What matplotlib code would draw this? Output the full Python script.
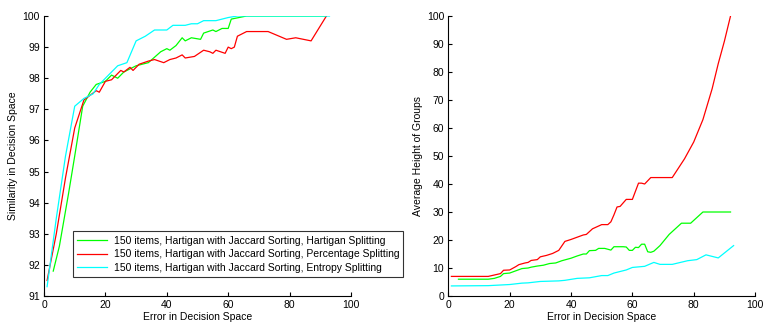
import matplotlib
matplotlib.use("Agg")
import matplotlib.pyplot as plt

# left panel: similarity vs error
sim_hart_x = [3, 5, 8, 10, 12.6, 15, 17, 20, 22, 24, 26, 30, 34, 38, 40, 41, 43, 45, 46, 48, 51, 52,
              55, 56, 58, 60, 61, 66, 92]
sim_hart_y = [91.8, 92.6, 94.3, 95.5, 97.1, 97.55, 97.8, 97.9, 98.1, 98.0, 98.2, 98.4, 98.5, 98.85,
              98.95, 98.9, 99.05, 99.3, 99.2, 99.3, 99.25, 99.45, 99.55, 99.5, 99.6, 99.6, 99.9,
              100, 100]

sim_perc_x = [1, 4, 7, 10, 13, 15, 17, 18, 20, 22, 25, 26, 28, 29, 31, 34, 36, 39, 41, 43, 45, 46,
              49, 52, 54, 55, 56, 59, 60, 61, 62, 63, 66, 73, 79, 82, 87, 92]
sim_perc_y = [91.5, 93.0, 94.8, 96.4, 97.3, 97.45, 97.6, 97.55, 97.9, 97.95, 98.25, 98.2, 98.35,
              98.25, 98.45, 98.55, 98.6, 98.5, 98.6, 98.65, 98.75, 98.65, 98.7, 98.9, 98.85, 98.8,
              98.9, 98.8, 99.0, 98.95, 99.0, 99.35, 99.5, 99.5, 99.25, 99.3, 99.2, 100]

sim_entr_x = [1, 4, 7, 10, 13, 16, 18, 20, 24, 27, 30, 31, 33, 36, 40, 42, 46, 48, 50, 52, 56, 60,
              63, 93]
sim_entr_y = [91.3, 93.5, 95.5, 97.1, 97.35, 97.5, 97.8, 98.0, 98.4, 98.5, 99.2, 99.25, 99.35, 99.55,
              99.55, 99.7, 99.7, 99.75, 99.75, 99.85, 99.85, 99.95, 100, 100]

# right panel: average group height vs error
hgt_hart_x = [3.3, 13, 15, 17, 18, 20, 22, 24, 26, 27, 29, 31, 33, 35, 37, 39, 40, 42, 44, 45, 46,
              48, 49, 51, 53, 54, 57, 58, 59, 60, 61, 62, 63, 64, 65, 66, 67, 69, 72, 76, 79, 83, 92]
hgt_hart_y = [6, 6, 6.3, 7, 8, 8.2, 9, 9.8, 10, 10.3, 10.7, 11, 11.6, 11.8, 12.6, 13.2, 13.5, 14.3,
              15, 15, 16.2, 16.3, 17, 17, 16.4, 17.6, 17.6, 17.5, 16.3, 16.3, 17.4, 17.3, 18.5,
              18.5, 15.8, 15.6, 16, 18, 22, 26, 26, 30, 30]

hgt_perc_x = [1, 13, 15, 17, 18, 20, 22, 23, 25, 26, 27, 29, 30, 32, 34, 36, 38, 40, 42, 44, 45, 46,
              47, 48, 50, 52, 53, 54, 55, 56, 58, 60, 62, 63, 64, 66, 73, 77, 80, 83, 86, 88, 90, 92]
hgt_perc_y = [7, 7, 7.5, 8, 9.2, 9.3, 10.5, 11.2, 11.8, 12, 12.7, 13, 14, 14.5, 15.2, 16.3, 19.5,
              20.2, 21, 21.8, 22, 23, 24, 24.5, 25.5, 25.5, 26.5, 29, 31.8, 32, 34.5, 34.5, 40.3,
              40.3, 40, 42.3, 42.3, 49, 55, 63, 74, 83, 91, 100]

hgt_entr_x = [1, 13, 20, 24, 26, 30, 36, 38, 42, 46, 50, 52, 54, 58, 60, 64, 67, 69, 73, 78, 81, 84,
              88, 93]
hgt_entr_y = [3.6, 3.7, 4.1, 4.6, 4.7, 5.2, 5.4, 5.6, 6.3, 6.5, 7.3, 7.3, 8.2, 9.3, 10.2, 10.6, 12,
              11.3, 11.3, 12.6, 13, 14.7, 13.6, 18]

labels = ["150 items, Hartigan with Jaccard Sorting, Hartigan Splitting",
          "150 items, Hartigan with Jaccard Sorting, Percentage Splitting",
          "150 items, Hartigan with Jaccard Sorting, Entropy Splitting"]

plt.rcParams['font.family'] = ['Liberation Sans', 'DejaVu Sans']
plt.rcParams['font.size'] = 7.5


def style_axes(ax):
    ax.spines['top'].set_visible(False)
    ax.spines['right'].set_visible(False)
    ax.tick_params(direction='in', length=3, width=0.8, labelsize=7.5, pad=3)
    ax.set_xlim(0, 100)
    ax.set_xticks([0, 20, 40, 60, 80, 100])
    ax.set_xlabel("Error in Decision Space", labelpad=1)


fig = plt.figure(figsize=(7.63, 3.25), dpi=100)
ax1 = fig.add_axes([0.0577, 0.0892, 0.4023, 0.8616])
ax2 = fig.add_axes([0.5876, 0.0892, 0.402, 0.8616])

l1, = ax1.plot(sim_hart_x, sim_hart_y, color=(0, 1, 0), lw=0.9)
l2, = ax1.plot(sim_perc_x, sim_perc_y, color=(1, 0, 0), lw=0.9)
l3, = ax1.plot(sim_entr_x, sim_entr_y, color=(0, 1, 1), lw=0.9)
style_axes(ax1)
ax1.set_ylim(91, 100)
ax1.set_yticks(range(91, 101))
ax1.set_ylabel("Similarity in Decision Space", labelpad=3)

ax2.plot(hgt_hart_x, hgt_hart_y, color=(0, 1, 0), lw=0.9)
ax2.plot(hgt_perc_x, hgt_perc_y, color=(1, 0, 0), lw=0.9)
ax2.plot(hgt_entr_x, hgt_entr_y, color=(0, 1, 1), lw=0.9)
style_axes(ax2)
ax2.set_ylim(0, 100)
ax2.set_yticks(range(0, 101, 10))
ax2.set_ylabel("Average Height of Groups", labelpad=3)

leg = fig.legend([l1, l2, l3], labels, loc='lower left', bbox_to_anchor=(0.0957, 0.1477),
                 borderaxespad=0, frameon=True, fancybox=False, edgecolor='black',
                 handlelength=2.9, labelspacing=0.35, borderpad=0.4, handletextpad=0.6,
                 fontsize=7.5)
leg.get_frame().set_linewidth(0.8)

fig.savefig("out.png", dpi=100)
